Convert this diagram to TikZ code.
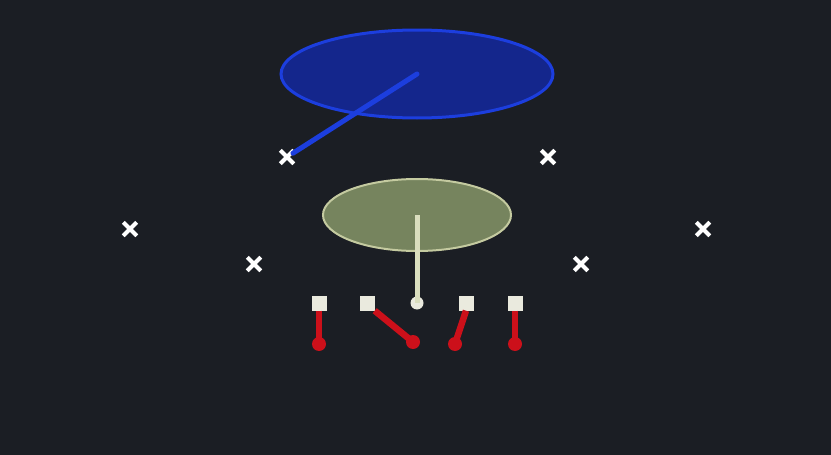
\documentclass[tikz,border=0pt]{standalone}
\usetikzlibrary{shapes.misc,shapes.geometric}
\definecolor{bg}{RGB}{27,30,36}
\definecolor{dfill}{RGB}{20,38,140}
\definecolor{dline}{RGB}{28,62,222}
\definecolor{lbfill}{RGB}{118,132,94}
\definecolor{lbline}{RGB}{196,202,160}
\definecolor{lbstem}{RGB}{218,222,190}
\definecolor{olfill}{RGB}{234,234,222}
\definecolor{route}{RGB}{204,16,26}
\tikzset{
  defx/.style={cross out,draw=white,line width=4pt,minimum size=9.5pt,inner sep=0pt},
  olsq/.style={rectangle,fill=olfill,minimum size=15pt,inner sep=0pt},
  routeline/.style={draw=route,line width=6.5pt},
  routeend/.style={circle,fill=route,minimum size=14pt,inner sep=0pt},
}
\begin{document}
\begin{tikzpicture}[x=1pt,y=-1pt]
\useasboundingbox (0,0) rectangle (831,455);
\fill[bg] (0,0) rectangle (831,455);
% deep zone
\node (zone) [ellipse,draw=dline,line width=3pt,fill=dfill,minimum width=272pt,minimum height=88pt,inner sep=0pt] at (417,74) {};
\coordinate (zc) at (417,74);
% defenders
\node (x1) [defx] at (287,157) {};
\node (x2) [defx] at (548,157) {};
\node (x3) [defx] at (130,229) {};
\node (x4) [defx] at (703,229) {};
\node (x5) [defx] at (254,264) {};
\node (x6) [defx] at (581,264) {};
\draw[dline,line width=5pt,line cap=round,shorten >=7pt] (zc) -- (x1.center);
% QB zone
\node (lb) [ellipse,draw=lbline,line width=2pt,fill=lbfill,minimum width=188pt,minimum height=72pt,inner sep=0pt] at (417,215) {};
\coordinate (lbc) at (417,215);
% offense
\node (qb) [circle,fill=olfill,minimum size=13pt,inner sep=0pt] at (417,303) {};
\draw[lbstem,line width=5pt] (lbc) -- (qb.center);
\node (s1) [olsq] at (319,303) {};
\node (s2) [olsq] at (367,303) {};
\node (s3) [olsq] at (466,303) {};
\node (s4) [olsq] at (515,303) {};
\node (e1) [routeend] at (319,344) {};
\node (e2) [routeend] at (413,342) {};
\node (e3) [routeend] at (455,344) {};
\node (e4) [routeend] at (515,344) {};
\draw[routeline] (s1.south) -- (e1.center);
\draw[routeline] (s2.south east) -- (e2.center);
\draw[routeline] (s3.south) -- (e3.center);
\draw[routeline] (s4.south) -- (e4.center);
\end{tikzpicture}
\end{document}
